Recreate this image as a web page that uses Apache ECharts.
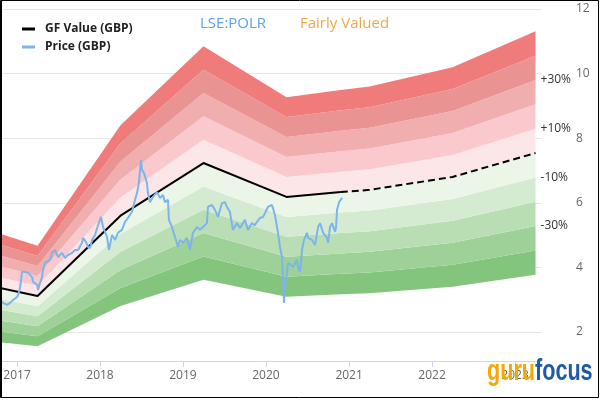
<!DOCTYPE html>
<html><head><meta charset="utf-8">
<script src="https://cdn.jsdelivr.net/npm/echarts@6/dist/echarts.min.js"></script>
<style>html,body{margin:0;padding:0;background:#fff}#c{width:600px;height:420px}</style>
</head><body><div id="c"></div>
<script>
// ---- data (dates as decimal years) ----
const tickYears = [2017, 2018, 2019, 2020, 2021, 2022, 2023];
const yTicks = [2, 4, 6, 8, 10, 12];
const xRange = [2016.795, 2023.313];
const yRange = [1.1, 12];

const gfYears  = [2016.795, 2017.247, 2018.247, 2019.247, 2020.247, 2020.900, 2021.247, 2022.247, 2023.247];
const gfValues = [3.36, 3.11, 5.60, 7.23, 6.18, 6.33, 6.40, 6.80, 7.54];
const gfSolidLastIndex = 5; // solid up to today, dashed projection after

const bandBase = 0.5;
const bandStep = 0.1;
const bandColors = ['#84c57d', '#9dd198', '#badeb4', '#d5ebd1', '#ebf6e9',
                    '#fde6e8', '#fac9ce', '#f1aeae', '#e99393', '#f07b7b'];
const bandLabels = { 2: '-30%', 4: '-10%', 6: '+10%', 8: '+30%' };

const pricePoints = [
 [2016.795,2.99],[2016.831,2.90],[2016.880,2.84],[2016.916,2.90],[2016.952,2.99],[2017.000,3.08],
 [2017.012,3.15],[2017.036,3.36],[2017.060,3.86],[2017.096,3.86],[2017.133,3.83],[2017.181,3.70],
 [2017.193,3.55],[2017.241,3.46],[2017.253,3.30],[2017.277,3.52],[2017.301,3.70],[2017.313,3.92],
 [2017.337,4.14],[2017.361,4.17],[2017.398,4.23],[2017.422,4.45],[2017.458,4.54],[2017.494,4.32],
 [2017.542,4.45],[2017.578,4.29],[2017.614,4.38],[2017.663,4.45],[2017.699,4.54],[2017.735,4.54],
 [2017.783,4.76],[2017.795,4.91],[2017.831,4.79],[2017.855,4.63],[2017.880,4.60],[2017.904,4.85],
 [2017.940,5.00],[2017.976,5.31],[2018.012,5.56],[2018.036,5.25],[2018.084,4.94],[2018.108,4.54],
 [2018.145,5.00],[2018.181,4.85],[2018.217,5.07],[2018.265,5.16],[2018.301,5.41],[2018.337,5.53],
 [2018.386,5.72],[2018.422,6.09],[2018.446,6.30],[2018.470,6.64],[2018.494,7.33],[2018.506,7.02],
 [2018.530,6.92],[2018.566,6.61],[2018.578,6.30],[2018.602,6.02],[2018.639,6.18],[2018.687,6.33],
 [2018.723,6.15],[2018.759,6.24],[2018.783,6.02],[2018.819,6.09],[2018.831,5.47],[2018.867,5.25],
 [2018.904,4.94],[2018.940,4.63],[2018.964,4.85],[2019.000,4.76],[2019.048,4.91],[2019.084,4.54],
 [2019.120,5.07],[2019.169,5.25],[2019.205,5.16],[2019.241,5.25],[2019.289,5.37],[2019.301,5.87],
 [2019.349,5.93],[2019.386,5.78],[2019.422,5.56],[2019.470,5.99],[2019.506,6.02],[2019.530,5.87],
 [2019.566,5.72],[2019.602,5.16],[2019.651,5.37],[2019.687,5.22],[2019.723,5.37],[2019.747,5.47],
 [2019.783,5.16],[2019.831,5.37],[2019.867,5.30],[2019.892,5.41],[2019.928,5.53],[2019.964,5.56],
 [2019.988,5.68],[2020.024,5.87],[2020.072,5.93],[2020.084,5.84],[2020.108,5.62],[2020.145,5.07],
 [2020.169,4.63],[2020.193,4.32],[2020.205,3.70],[2020.211,3.30],[2020.217,2.90],[2020.229,3.39],
 [2020.253,3.83],[2020.265,4.14],[2020.289,4.17],[2020.325,4.01],[2020.373,4.23],[2020.386,4.01],
 [2020.410,3.86],[2020.434,4.54],[2020.458,4.85],[2020.494,5.07],[2020.506,4.91],[2020.554,4.85],
 [2020.590,4.69],[2020.627,5.25],[2020.651,5.37],[2020.687,5.07],[2020.735,4.91],[2020.747,4.76],
 [2020.771,5.25],[2020.795,5.37],[2020.831,5.10],[2020.843,5.25],[2020.855,5.78],[2020.880,6.02],
 [2020.916,6.15]
];

// ---- helpers ----
function yt(y) {
  const yi = Math.floor(y);
  const s = Date.UTC(yi, 0, 1), e = Date.UTC(yi + 1, 0, 1);
  return s + (y - yi) * (e - s);
}
const FONT = '"Open Sans", "DejaVu Sans", sans-serif';
const LOGO_FONT = 'bold 30px "Liberation Sans", Arial, sans-serif';

const series = [];
series.push({
  type: 'line', stack: 'gf', symbol: 'none', silent: true,
  lineStyle: { width: 0, opacity: 0 },
  data: gfYears.map((y, i) => [yt(y), gfValues[i] * bandBase])
});
for (let k = 1; k <= bandColors.length; k++) {
  const s = {
    type: 'line', stack: 'gf', symbol: 'none', silent: true,
    lineStyle: { width: 0, opacity: 0 },
    areaStyle: { color: bandColors[k - 1], opacity: 1 },
    data: gfYears.map((y, i) => [yt(y), gfValues[i] * bandStep])
  };
  if (bandLabels[k]) {
    s.endLabel = { show: true, formatter: bandLabels[k], color: '#333', fontSize: 12,
                   fontFamily: FONT, distance: 5 };
  }
  series.push(s);
}
series.push({
  name: 'GF Value (GBP)', type: 'line', symbol: 'none', color: '#000',
  lineStyle: { width: 2, color: '#000' }, z: 5,
  data: gfYears.slice(0, gfSolidLastIndex + 1).map((y, i) => [yt(y), gfValues[i]])
});
series.push({
  name: 'GF Projection', type: 'line', symbol: 'none', color: '#000',
  lineStyle: { width: 2, color: '#000', type: [7, 4] }, z: 5,
  data: gfYears.slice(gfSolidLastIndex).map((y, i) => [yt(y), gfValues[i + gfSolidLastIndex]])
});
series.push({
  name: 'Price (GBP)', type: 'line', symbol: 'none', color: '#7cb5ec',
  lineStyle: { width: 2, color: '#7cb5ec' }, z: 6,
  data: pricePoints.map(p => [yt(p[0]), p[1]])
});

const chart = echarts.init(document.getElementById('c'), null, { renderer: 'canvas' });
chart.setOption({
  animation: false,
  backgroundColor: '#fff',
  grid: { left: 0, right: 59, top: 9, bottom: 59, containLabel: false },
  legend: {
    orient: 'vertical', left: 22, top: 22, padding: 0, itemWidth: 13, itemHeight: 3, icon: 'rect',
    itemGap: 4, data: ['GF Value (GBP)', 'Price (GBP)'],
    textStyle: { fontWeight: 'bold', fontSize: 12, color: '#222', fontFamily: FONT, lineHeight: 14, padding: [0, 0, 0, 5] }
  },
  xAxis: {
    type: 'time', min: yt(xRange[0]), max: yt(xRange[1]),
    splitNumber: 6,
    axisLine: { show: true, lineStyle: { color: '#ccd6eb' } },
    axisTick: { show: true, length: 6, lineStyle: { color: '#ccd6eb' } },
    axisLabel: { formatter: '{yyyy}', color: '#666', fontSize: 12, fontFamily: FONT, margin: 9 },
    splitLine: { show: false }
  },
  yAxis: {
    type: 'value', position: 'right', min: yRange[0], max: yRange[1],
    axisLine: { show: false },
    axisTick: { show: false, customValues: yTicks },
    axisLabel: { customValues: yTicks, color: '#666', fontSize: 12, fontFamily: FONT, margin: 35 },
    splitLine: { show: true, lineStyle: { color: '#e6e6e6' } }
  },
  graphic: [
    { type: 'text', left: 200, top: 16, z: 100,
      style: { text: 'LSE:POLR', fill: '#5aa2ec', font: '15px ' + FONT } },
    { type: 'text', left: 300, top: 16, z: 100,
      style: { text: 'Fairly Valued', fill: '#eda84a', font: '15px ' + FONT } },
    { type: 'text', x: 487, y: 357, scaleX: 0.72, z: 100,
      style: { text: '{g|guru}{f|focus}',
        rich: {
          g: { fill: '#f6a700', font: LOGO_FONT },
          f: { fill: '#1f5aa6', font: LOGO_FONT }
        } } },
    { type: 'rect', z: 100, silent: true,
      shape: { x: 0.5, y: 0.5, width: 598, height: 397 },
      style: { fill: 'none', stroke: '#000', lineWidth: 1 } },
    { type: 'line', z: 100, silent: true,
      shape: { x1: 1.5, y1: 0, x2: 1.5, y2: 398 },
      style: { stroke: '#000', lineWidth: 1 } }
  ],
  series: series
});
</script></body></html>
